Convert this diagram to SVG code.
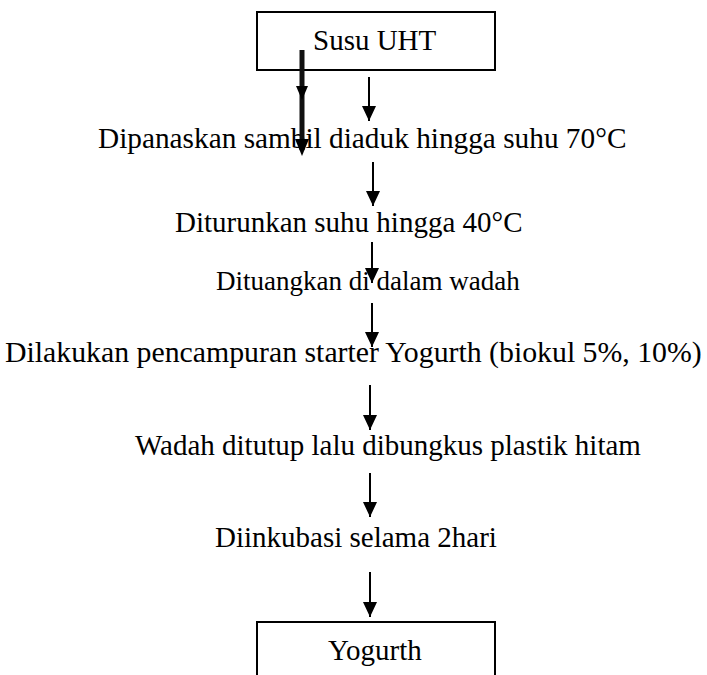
<svg xmlns="http://www.w3.org/2000/svg" width="707" height="675" viewBox="0 0 707 675">
<style>
  .t { font-family: "Liberation Serif", "Times New Roman", serif; font-size: 29px; fill: #000; }
  .box { fill: #fff; stroke: #000; stroke-width: 2; }
  .ln { stroke: #000; stroke-width: 2; fill: none; }
</style>
<defs>
  <marker id="ah" viewBox="0 0 15 14" refX="15" refY="7" markerWidth="15" markerHeight="14" markerUnits="userSpaceOnUse" orient="auto">
    <path d="M0,0 L15,7 L0,14 Z" fill="#000"/>
  </marker>
</defs>
<rect width="707" height="675" fill="#fff"/>
<g id="n1"><rect class="box" x="257" y="12" width="238" height="58"/><text class="t" x="313" y="50">Susu UHT</text></g>
<g id="n2"><text class="t" x="98" y="148" style="font-size:29.3px">Dipanaskan sambil diaduk hingga suhu 70°C</text></g>
<g id="n3"><text class="t" x="175" y="232">Diturunkan suhu hingga 40°C</text></g>
<g id="n4"><text class="t" x="216" y="290" style="font-size:27px">Dituangkan di dalam wadah</text></g>
<g id="n5"><text class="t" x="5" y="362" style="font-size:29.8px">Dilakukan pencampuran starter Yogurth (biokul 5%, 10%)</text></g>
<g id="n6"><text class="t" x="135" y="455">Wadah ditutup lalu dibungkus plastik hitam</text></g>
<g id="n7"><text class="t" x="215" y="547">Diinkubasi selama 2hari</text></g>
<g id="n8"><rect class="box" x="257" y="622" width="238" height="70"/><text class="t" x="328" y="660">Yogurth</text></g>
<g id="connectors">
  <line class="ln" x1="369" y1="77" x2="369" y2="121" marker-end="url(#ah)"/>
  <line x1="302" y1="50" x2="302" y2="150" stroke="#111" stroke-width="5"/>
  <path d="M296,86 L308,86 L302,100 Z" fill="#000"/>
  <path d="M295,139 L309,139 L302,156 Z" fill="#000"/>
  <line class="ln" x1="373" y1="162" x2="373" y2="206" marker-end="url(#ah)"/>
  <line class="ln" x1="372" y1="242" x2="372" y2="283" marker-end="url(#ah)"/>
  <line class="ln" x1="372" y1="303" x2="372" y2="347" marker-end="url(#ah)"/>
  <line class="ln" x1="370" y1="385" x2="370" y2="430" marker-end="url(#ah)"/>
  <line class="ln" x1="370" y1="473" x2="370" y2="517" marker-end="url(#ah)"/>
  <line class="ln" x1="370" y1="572" x2="370" y2="617" marker-end="url(#ah)"/>
</g>
</svg>
